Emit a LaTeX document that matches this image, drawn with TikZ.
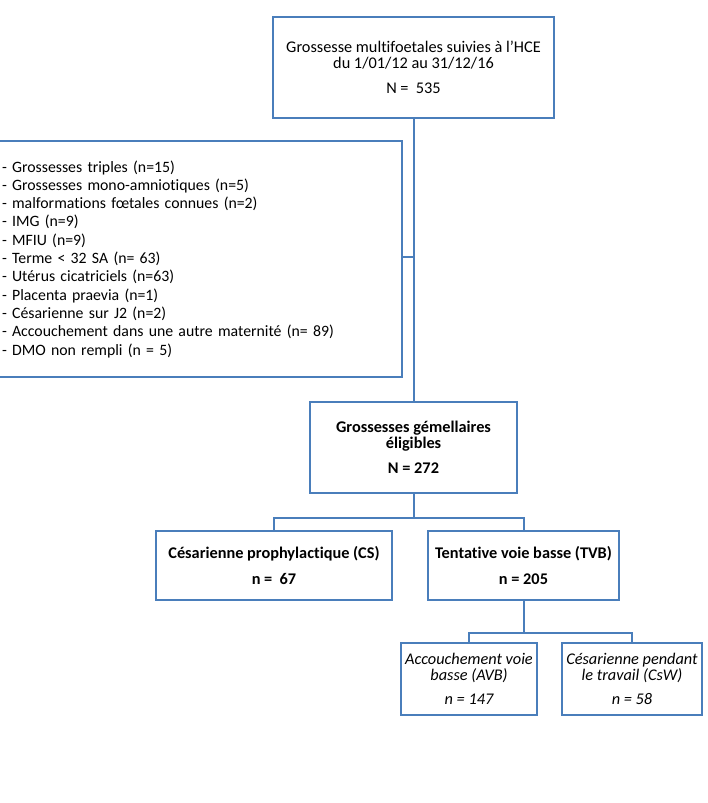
\documentclass[tikz,border=0pt]{standalone}
\usepackage{fontspec}
\setmainfont{Carlito}[Ligatures={NoCommon}]
\definecolor{bl}{HTML}{4A7EBB}
\begin{document}
\begin{tikzpicture}[x=1pt,y=-1pt,
  box/.style={draw=bl,line width=2.6pt,align=center,inner sep=0pt,font=\fontsize{16.3}{16}\selectfont},
  conn/.style={draw=bl,line width=2pt}]
\useasboundingbox (0,0) rectangle (708,803);
\node[box,minimum width=281pt,minimum height=101pt] (top) at (413.5,67.5)
  {Grossesse multifoetales suivies à l{\char"27}HCE\\du 1/01/12 au 31/12/16\\[9pt]N =\ \ 535};
\node[box,align=left,text width=395pt,inner xsep=5pt,minimum height=236pt,font=\fontsize{15.8}{18.3}\selectfont] (excl) at (199.5,259)
  {- Grossesses triples (n=15)\\
   - Grossesses mono-amniotiques (n=5)\\
   - malformations fœtales connues (n=2)\\
   - IMG (n=9)\\
   - MFIU (n=9)\\
   - Terme < 32 SA (n= 63)\\
   - Utérus cicatriciels (n=63)\\
   - Placenta praevia (n=1)\\
   - Césarienne sur J2 (n=2)\\
   - Accouchement dans une autre maternité (n= 89)\\
   - DMO non rempli (n = 5)};
\node[box,minimum width=207pt,minimum height=91pt,font=\bfseries\fontsize{16.3}{16}\selectfont] (gem) at (413.5,447.5)
  {Grossesses gémellaires\\éligibles\\[9pt]N = 272};
\node[box,minimum width=236pt,minimum height=69pt,font=\bfseries\fontsize{16.3}{16}\selectfont] (cs) at (274,565.5)
  {Césarienne prophylactique (CS)\\[10pt]n =\ \ 67};
\node[box,minimum width=191pt,minimum height=69pt,font=\bfseries\fontsize{16.3}{16}\selectfont] (tvb) at (523.5,565.5)
  {Tentative voie basse (TVB)\\[10pt]n = 205};
\node[box,minimum width=136pt,minimum height=72pt,font=\itshape\fontsize{16.3}{16}\selectfont] (avb) at (469,679)
  {Accouchement voie\\basse (AVB)\\[8pt]n = 147};
\node[box,minimum width=140pt,minimum height=72pt,font=\itshape\fontsize{16.3}{16}\selectfont] (csw) at (632,679)
  {Césarienne pendant\\le travail (CsW)\\[8pt]n = 58};
\coordinate (j1) at (413.5,257);
\coordinate (j2) at (413.5,518);
\coordinate (j3) at (523.5,633);
\draw[conn] (top.south) -- (gem.north);
\draw[conn] (excl.east |- j1) -- (j1);
\draw[conn] (gem.south) -- (j2);
\draw[conn] (cs.north) |- (j2) -| (tvb.north);
\draw[conn] (tvb.south) -- (j3);
\draw[conn] (avb.north) |- (j3) -| (csw.north);
\end{tikzpicture}
\end{document}
